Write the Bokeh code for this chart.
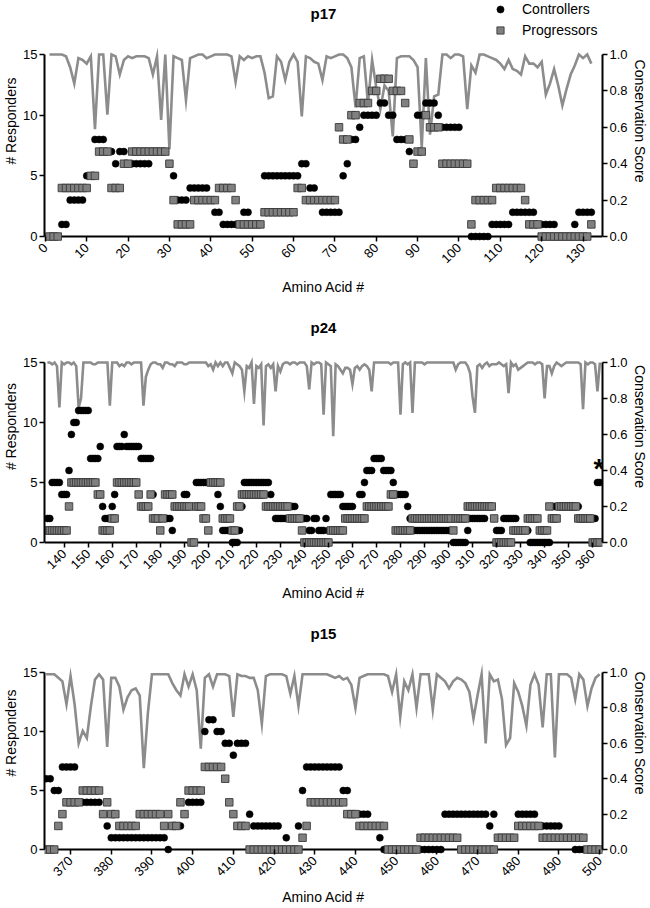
import math
from bokeh.plotting import figure
from bokeh.models import (Range1d, LinearAxis, FixedTicker, Label, Legend, LegendItem,
                          PrintfTickFormatter, ColumnDataSource, Span)
from bokeh.layouts import column
from bokeh.embed import file_html
from bokeh.resources import INLINE

FONT = "Liberation Sans"

# ---------------- p17 (amino acids 1-132) ----------------
P17_START = 1
P17_CONTROLLERS = [
    0, 0, 0, 1, 1, 3, 3, 3, 3, 5,
    5, 8, 8, 8, 7, 7, 6, 7, 7, 6,
    6, 6, 6, 6, 6, 7, 7, 7, 7, 6,
    5, 3, 3, 3, 4, 4, 4, 4, 4, 3,
    2, 2, 1, 1, 1, 1, 1, 2, 2, 1,
    1, 1, 5, 5, 5, 5, 5, 5, 5, 5,
    5, 6, 6, 4, 4, 3, 2, 2, 2, 2,
    2, 5, 6, 8, 8, 9, 10, 10, 10, 10,
    11, 11, 10, 10, 8, 8, 8, 7, 6, 10,
    10, 11, 11, 11, 10, 9, 9, 9, 9, 9,
    6, 6, 0, 0, 0, 0, 0, 1, 1, 1,
    1, 1, 2, 2, 2, 2, 2, 2, 1, 1,
    1, 1, 1, 0, 0, 0, 0, 1, 2, 2,
    2, 2]
P17_PROGRESSORS = [
    0, 0, 0, 4, 4, 4, 4, 4, 4, 4,
    5, 5, 7, 7, 7, 4, 4, 4, 6, 6,
    7, 7, 7, 7, 7, 7, 7, 7, 7, 6,
    3, 1, 1, 1, 1, 3, 3, 3, 3, 3,
    3, 4, 4, 4, 4, 3, 1, 1, 1, 1,
    1, 1, 2, 2, 2, 2, 2, 2, 2, 2,
    4, 4, 3, 3, 3, 3, 3, 3, 3, 3,
    9, 8, 8, 10, 10, 11, 11, 11, 12, 12,
    13, 13, 13, 12, 12, 12, 11, 8, 6, 7,
    7, 10, 9, 9, 9, 6, 6, 6, 6, 6,
    6, 6, 1, 3, 3, 3, 3, 3, 4, 4,
    4, 4, 4, 4, 4, 3, 1, 1, 1, 0,
    0, 0, 0, 0, 0, 0, 0, 0, 0, 0,
    0, 1]
P17_CONSERVATION = [
    1.0, 1.0, 1.0, 1.0, 0.99, 0.93, 0.84, 0.98, 0.97, 0.95,
    0.99, 0.59, 1.0, 1.0, 0.67, 1.0, 0.99, 0.89, 0.97, 0.99,
    0.98, 0.99, 0.99, 0.99, 0.98, 0.89, 0.99, 0.64, 1.0, 0.48,
    0.99, 0.98, 0.97, 0.75, 0.98, 0.99, 1.0, 1.0, 0.98, 0.99,
    1.0, 1.0, 1.0, 1.0, 0.99, 0.85, 0.99, 0.97, 0.99, 0.98,
    0.99, 0.99, 0.90, 0.76, 0.77, 0.99, 0.96, 0.86, 0.96, 1.0,
    0.96, 0.66, 0.99, 0.98, 0.96, 0.95, 0.86, 0.99, 0.98, 0.99,
    1.0, 1.0, 0.98, 0.93, 0.71, 0.98, 0.99, 0.73, 0.97, 0.82,
    0.70, 0.83, 0.80, 0.55, 0.98, 0.99, 0.99, 0.99, 0.97, 0.93,
    0.49, 0.98, 0.56, 0.77, 0.78, 1.0, 1.0, 0.98, 1.0, 1.0,
    0.99, 0.70, 0.94, 0.90, 1.0, 1.0, 0.99, 0.98, 0.97, 0.95,
    0.92, 0.97, 0.92, 0.91, 0.89, 0.99, 0.95, 0.95, 0.93, 0.96,
    0.78, 0.84, 0.92, 0.83, 0.72, 0.81, 0.89, 0.94, 1.0, 0.98,
    1.0, 0.95]
P17_TICKS = [0, 10, 20, 30, 40, 50, 60, 70, 80, 90, 100, 110, 120, 130]

# ---------------- p24 (amino acids 133-363) ----------------
P24_START = 133
P24_CONTROLLERS = [
    2, 2, 5, 5, 5, 5, 4, 4, 4, 6,
    9, 10, 10, 11, 11, 11, 11, 11, 7, 7,
    7, 7, 8, 3, 2, 2, 2, 3, 4, 8,
    8, 8, 9, 8, 8, 8, 8, 8, 8, 7,
    7, 7, 7, 7, 4, 2, 2, 2, 2, 2,
    2, 2, 1, 3, 3, 3, 3, 4, 4, 3,
    3, 3, 5, 5, 5, 5, 5, 5, 5, 5,
    5, 4, 3, 1, 1, 1, 1, 0, 0, 0,
    1, 3, 5, 5, 5, 5, 5, 5, 5, 5,
    5, 5, 5, 4, 3, 2, 2, 2, 2, 2,
    3, 3, 3, 3, 2, 2, 2, 2, 2, 1,
    1, 2, 2, 1, 1, 1, 2, 1, 4, 4,
    4, 4, 4, 3, 3, 3, 3, 3, 2, 2,
    4, 4, 5, 6, 6, 6, 7, 7, 7, 7,
    6, 6, 6, 6, 5, 4, 4, 4, 4, 4,
    3, 2, 1, 1, 1, 1, 1, 1, 1, 1,
    1, 1, 1, 1, 1, 1, 1, 1, 1, 0,
    0, 0, 0, 0, 0, 1, 2, 2, 2, 2,
    2, 2, 2, 3, 3, 3, 2, 1, 1, 1,
    2, 2, 2, 2, 2, 2, 1, 1, 1, 1,
    1, 0, 0, 0, 0, 0, 0, 0, 0, 0,
    2, 3, 3, 3, 3, 3, 3, 3, 3, 3,
    3, 3, 2, 2, 2, 2, 2, 2, 2, 5,
    5]
P24_PROGRESSORS = [
    1, 1, 1, 1, 1, 1, 1, 1, 1, 3,
    5, 5, 5, 5, 5, 5, 5, 5, 5, 5,
    5, 4, 4, 1, 1, 1, 1, 2, 2, 5,
    5, 5, 5, 5, 5, 5, 5, 5, 4, 3,
    3, 3, 3, 4, 2, 2, 2, 1, 2, 4,
    4, 4, 4, 3, 3, 3, 3, 3, 3, 3,
    0, 0, 3, 3, 3, 2, 2, 1, 5, 5,
    5, 5, 5, 2, 2, 2, 2, 1, 1, 3,
    3, 4, 4, 4, 4, 4, 4, 4, 4, 4,
    4, 3, 3, 3, 3, 3, 3, 3, 3, 3,
    3, 2, 2, 2, 2, 2, 1, 0, 0, 0,
    0, 0, 0, 0, 0, 0, 0, 0, 1, 1,
    1, 1, 1, 1, 2, 2, 2, 2, 2, 2,
    2, 2, 2, 3, 3, 3, 3, 3, 3, 3,
    3, 3, 3, 4, 4, 1, 1, 1, 1, 1,
    1, 1, 2, 2, 2, 2, 2, 2, 2, 2,
    2, 2, 2, 2, 2, 2, 2, 2, 2, 1,
    2, 2, 2, 2, 2, 3, 3, 3, 3, 3,
    3, 3, 3, 3, 3, 3, 2, 0, 0, 0,
    0, 0, 0, 0, 1, 1, 1, 1, 1, 1,
    2, 2, 2, 2, 2, 1, 1, 1, 1, 3,
    2, 2, 2, 3, 3, 3, 3, 3, 3, 3,
    3, 2, 2, 2, 2, 2, 2, 0, 0, 0,
    0]
P24_CONSERVATION = [
    1.0, 1.0, 0.99, 1.0, 0.98, 0.75, 1.0, 0.99, 1.0, 1.0,
    0.99, 1.0, 0.98, 0.75, 0.80, 1.0, 1.0, 1.0, 1.0, 0.99,
    0.99, 1.0, 1.0, 1.0, 1.0, 1.0, 0.76, 1.0, 1.0, 1.0,
    0.98, 0.99, 0.98, 1.0, 1.0, 0.99, 1.0, 1.0, 1.0, 1.0,
    0.76, 0.92, 0.96, 0.99, 1.0, 1.0, 0.99, 0.99, 0.97, 1.0,
    1.0, 0.99, 0.99, 0.98, 1.0, 1.0, 1.0, 0.99, 0.99, 1.0,
    1.0, 1.0, 1.0, 1.0, 1.0, 1.0, 1.0, 0.98, 0.99, 0.96,
    1.0, 0.98, 1.0, 0.98, 1.0, 1.0, 0.97, 0.94, 1.0, 0.99,
    0.98, 0.96, 0.84, 0.98, 0.97, 1.0, 0.77, 0.98, 0.97, 0.99,
    0.65, 0.98, 0.99, 0.97, 0.99, 0.84, 0.98, 0.95, 0.99, 1.0,
    1.0, 0.99, 1.0, 1.0, 0.99, 1.0, 1.0, 1.0, 0.98, 0.85,
    1.0, 0.99, 1.0, 1.0, 0.99, 0.71, 1.0, 0.99, 0.98, 0.59,
    0.99, 0.98, 0.96, 0.94, 0.97, 0.97, 0.96, 0.88, 0.97, 0.98,
    0.96, 0.98, 0.99, 0.98, 0.96, 0.84, 1.0, 1.0, 1.0, 1.0,
    1.0, 1.0, 1.0, 0.99, 1.0, 1.0, 1.0, 0.71, 0.99, 1.0,
    0.99, 1.0, 0.72, 1.0, 1.0, 1.0, 1.0, 0.99, 1.0, 1.0,
    1.0, 1.0, 1.0, 1.0, 1.0, 1.0, 1.0, 1.0, 1.0, 1.0,
    0.96, 0.99, 1.0, 1.0, 1.0, 0.98, 0.94, 0.81, 0.72, 0.98,
    0.99, 0.97, 0.99, 1.0, 0.98, 0.99, 0.99, 0.99, 1.0, 0.99,
    0.98, 0.99, 0.83, 1.0, 0.98, 0.99, 0.96, 0.97, 0.98, 0.99,
    1.0, 1.0, 1.0, 0.99, 1.0, 1.0, 0.99, 0.80, 0.98, 0.98,
    0.94, 0.98, 1.0, 0.99, 0.98, 0.99, 1.0, 1.0, 1.0, 1.0,
    1.0, 1.0, 0.99, 0.74, 1.0, 0.99, 1.0, 1.0, 0.99, 0.84,
    1.0]
P24_TICKS = [140, 150, 160, 170, 180, 190, 200, 210, 220, 230, 240, 250,
             260, 270, 280, 290, 300, 310, 320, 330, 340, 350, 360]

# ---------------- p15 (amino acids 364-500) ----------------
P15_START = 364
P15_CONTROLLERS = [
    6, 6, 5, 5, 7, 7, 7, 7, 4, 4,
    4, 4, 4, 4, 3, 2, 1, 1, 1, 1,
    1, 1, 1, 1, 1, 1, 1, 1, 1, 1,
    0, 2, 2, 2, 3, 4, 4, 4, 4, 10,
    11, 11, 10, 10, 9, 9, 8, 9, 9, 9,
    3, 2, 2, 2, 2, 2, 2, 2, 0, 1,
    0, 0, 2, 5, 7, 7, 7, 7, 7, 7,
    7, 7, 7, 5, 5, 3, 3, 3, 3, 3,
    2, 2, 1, 0, 0, 0, 0, 0, 0, 0,
    0, 0, 0, 0, 0, 0, 0, 0, 3, 3,
    3, 3, 3, 3, 3, 3, 3, 3, 3, 2,
    3, 1, 1, 1, 1, 1, 3, 3, 3, 3,
    3, 2, 2, 2, 2, 2, 2, 1, 1, 1,
    0, 0, 0, 0, 0, 0, 0]
P15_PROGRESSORS = [
    0, 0, 0, 2, 3, 4, 4, 4, 4, 5,
    5, 5, 5, 5, 3, 4, 3, 3, 2, 2,
    2, 2, 2, 3, 3, 3, 3, 3, 3, 2,
    3, 2, 2, 4, 3, 5, 5, 5, 5, 7,
    7, 7, 7, 7, 6, 4, 3, 2, 2, 2,
    0, 0, 0, 0, 0, 0, 0, 0, 0, 0,
    0, 0, 0, 1, 2, 4, 4, 4, 4, 4,
    4, 4, 4, 4, 3, 3, 3, 2, 2, 2,
    2, 2, 2, 2, 0, 0, 0, 0, 0, 0,
    0, 0, 1, 1, 1, 1, 1, 1, 1, 1,
    1, 1, 0, 0, 0, 0, 0, 0, 0, 0,
    0, 1, 1, 1, 1, 1, 2, 2, 2, 2,
    2, 2, 1, 1, 1, 1, 1, 1, 1, 1,
    1, 1, 1, 0, 0, 0, 0]
P15_CONSERVATION = [
    0.99, 0.99, 0.99, 0.97, 0.95, 0.82, 0.98, 0.82, 0.60, 0.67,
    0.63, 0.81, 0.96, 0.99, 0.96, 0.58, 0.97, 0.97, 0.92, 0.79,
    0.86, 0.90, 0.91, 0.87, 0.46, 0.77, 0.99, 0.99, 0.99, 0.99,
    0.99, 0.94, 0.90, 0.87, 0.99, 0.92, 0.99, 0.90, 0.57, 0.97,
    0.99, 0.92, 0.99, 0.99, 0.99, 0.98, 0.75, 0.99, 0.98, 0.98,
    0.97, 0.97, 0.90, 0.71, 0.98, 0.99, 0.99, 0.99, 0.99, 0.98,
    0.88, 0.98, 0.81, 0.99, 0.99, 0.99, 0.99, 0.99, 0.99, 0.99,
    0.98, 0.97, 0.98, 0.96, 0.97, 0.93, 0.80, 0.97, 0.98, 0.99,
    0.99, 0.99, 0.99, 0.99, 0.98, 0.89, 0.99, 0.75, 0.95, 0.90,
    0.99, 0.80, 0.99, 0.99, 0.99, 0.79, 0.99, 0.97, 0.95, 0.91,
    0.95, 0.97, 0.96, 0.94, 0.89, 0.74, 0.87, 0.99, 0.60, 0.99,
    0.95, 0.96, 0.85, 0.59, 0.63, 0.94, 0.89, 0.81, 0.70, 0.93,
    0.99, 0.93, 0.69, 0.99, 0.99, 0.52, 0.99, 0.99, 0.99, 0.97,
    0.85, 0.99, 0.96, 0.81, 0.91, 0.97, 0.99]
P15_TICKS = [370, 380, 390, 400, 410, 420, 430, 440, 450, 460, 470, 480, 490, 500]

CONS_TICKS = [0.0, 0.2, 0.4, 0.6, 0.8, 1.0]
RESP_TICKS = [0, 5, 10, 15]

TICK_FS = "13px"
LABEL_FS = "14px"
FIG_W = 650


def style_axis(ax):
    ax.axis_line_width = 2
    ax.axis_line_color = "black"
    ax.major_tick_line_width = 1.5
    ax.major_tick_line_color = "black"
    ax.major_tick_out = 5
    ax.major_tick_in = 0
    ax.minor_tick_line_color = None
    ax.major_label_text_font = FONT
    ax.major_label_text_font_size = TICK_FS
    ax.major_label_text_color = "black"
    ax.major_label_standoff = 2
    ax.axis_label_text_font = FONT
    ax.axis_label_text_font_size = LABEL_FS
    ax.axis_label_text_font_style = "normal"
    ax.axis_label_text_color = "black"
    ax.axis_label_standoff = 1


def panel(title, start, ctrl, prog, cons, ticks, x_lo, x_hi, height, bottom,
          y_lo, y_hi, title_y, label_gap, legend=False, star=None):
    n = len(ctrl)
    src = ColumnDataSource(dict(
        x=list(range(start, start + n)),
        ctrl=ctrl,
        prog=prog[:n],
        cons=cons[:n],
    ))
    p = figure(width=FIG_W, height=height, output_backend="svg", toolbar_location=None,
               x_range=Range1d(x_lo, x_hi), y_range=Range1d(y_lo, y_hi),
               min_border_left=42, min_border_right=46, min_border_top=0,
               min_border_bottom=bottom)
    p.extra_y_ranges = {"cons": Range1d(y_lo / 15.0, y_hi / 15.0)}
    p.xgrid.visible = False
    p.ygrid.visible = False
    p.outline_line_color = None
    p.background_fill_color = "white"
    p.border_fill_color = "white"

    # x-axis baseline at 0 responders
    p.add_layout(Span(location=0, dimension="width", line_color="black",
                      line_width=2, level="underlay"))

    p.line("x", "cons", source=src, y_range_name="cons",
           line_color="#8c8c8c", line_width=2.6, line_join="miter")
    rc = p.scatter("x", "ctrl", source=src, marker="circle", size=7,
                   fill_color="black", line_color="black", line_width=0.5)
    rp = p.scatter("x", "prog", source=src, marker="square", size=7.5,
                   fill_color="#808080", line_color="#3a3a3a", line_width=0.9)

    # bottom axis: drawn at frame bottom, ticks point up to the baseline
    xa = p.xaxis[0]
    style_axis(xa)
    xa.axis_line_color = None
    xa.major_tick_in = 5
    xa.major_tick_out = 0
    xa.major_label_standoff = 4
    xa.axis_label_standoff = label_gap
    xa.ticker = FixedTicker(ticks=ticks)
    xa.major_label_orientation = math.pi / 4
    xa.axis_label = "Amino Acid #"

    ya = p.yaxis[0]
    style_axis(ya)
    ya.ticker = FixedTicker(ticks=RESP_TICKS)
    ya.bounds = (0, 15)
    ya.axis_label = "# Responders"

    ra = LinearAxis(y_range_name="cons", axis_label="Conservation Score")
    style_axis(ra)
    ra.ticker = FixedTicker(ticks=CONS_TICKS)
    ra.formatter = PrintfTickFormatter(format="%.1f")
    ra.bounds = (0, 1)
    p.add_layout(ra, "right")

    p.add_layout(Label(x=(x_lo + x_hi) / 2.0, y=title_y, text=title,
                       text_font=FONT, text_font_size="15px", text_font_style="bold",
                       text_align="center", text_baseline="middle", text_color="black"))

    if star is not None:
        p.add_layout(Label(x=star[0], y=star[1], text="*", text_font=FONT,
                           text_font_size="28px", text_font_style="bold",
                           text_align="center", text_baseline="middle",
                           text_color="black"))

    if legend:
        frame_h = height - bottom
        lg = Legend(items=[LegendItem(label="Controllers", renderers=[rc]),
                           LegendItem(label="Progressors", renderers=[rp])],
                    location=(446, frame_h - 39),
                    orientation="vertical", padding=0, margin=0, spacing=3,
                    glyph_width=20, glyph_height=18, label_height=18,
                    label_standoff=12, label_text_font=FONT,
                    label_text_font_size="14px", label_text_color="black",
                    border_line_color=None, background_fill_alpha=0)
        p.add_layout(lg)
    return p


p1 = panel("p17", P17_START, P17_CONTROLLERS, P17_PROGRESSORS, P17_CONSERVATION,
           P17_TICKS, -0.2, 134.7, 305, 64, -0.41, 19.45, 18.4, 9, legend=True)
p2 = panel("p24", P24_START, P24_CONTROLLERS, P24_PROGRESSORS, P24_CONSERVATION,
           P24_TICKS, 131.8, 364.1, 306, 64, -0.42, 19.75, 17.92, 9, star=(362.6, 6.2))
p3 = panel("p15", P15_START, P15_CONTROLLERS, P15_PROGRESSORS, P15_CONSERVATION,
           P15_TICKS, 363.6, 500.7, 297, 52, -0.42, 20.17, 18.33, 6)

layout = column(p1, p2, p3)
open("out.html", "w").write(file_html(layout, INLINE))
